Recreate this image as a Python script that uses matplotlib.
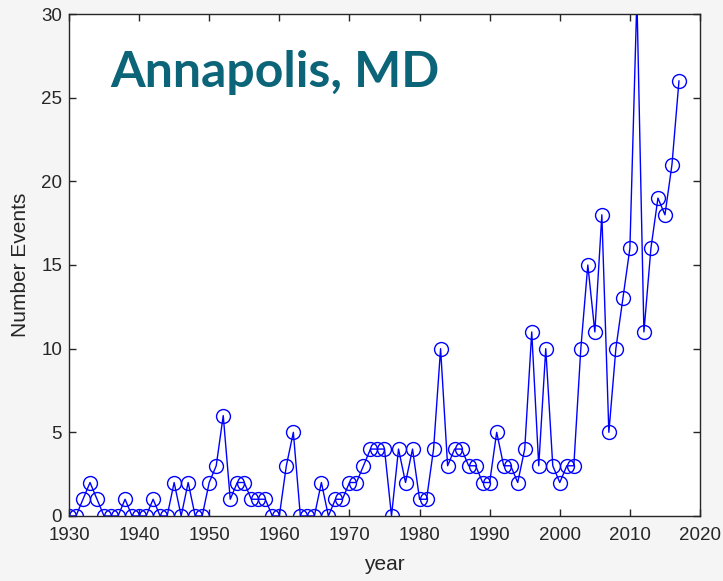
import matplotlib
matplotlib.use('Agg')
import matplotlib.pyplot as plt

# Yearly event counts
years = list(range(1930, 2018))
events = [0, 0, 1, 2, 1, 0, 0, 0, 1, 0,
          0, 0, 1, 0, 0, 2, 0, 2, 0, 0,
          2, 3, 6, 1, 2, 2, 1, 1, 1, 0,
          0, 3, 5, 0, 0, 0, 2, 0, 1, 1,
          2, 2, 3, 4, 4, 4, 0, 4, 2, 4,
          1, 1, 4, 10, 3, 4, 4, 3, 3, 2,
          2, 5, 3, 3, 2, 4, 11, 3, 10, 3,
          2, 3, 3, 10, 15, 11, 18, 5, 10, 13,
          16, 31, 11, 16, 19, 18, 21, 26]

x_ticks = [1930, 1940, 1950, 1960, 1970, 1980, 1990, 2000, 2010, 2020]
y_ticks = [0, 5, 10, 15, 20, 25, 30]

plt.rcParams['font.family'] = ['Liberation Sans', 'DejaVu Sans']
dark = '#262626'

fig = plt.figure(figsize=(7.23, 5.81), dpi=100, facecolor='#f5f5f5')
ax = fig.add_axes([0.0954, 0.1119, 0.8728, 0.864])
ax.set_facecolor('white')

ax.plot(years, events, color='blue', linewidth=1, marker='o', markersize=10,
        markerfacecolor='none', markeredgecolor='blue', markeredgewidth=1)

ax.set_xlim(1930, 2020)
ax.set_ylim(0, 30)
ax.set_xticks(x_ticks)
ax.set_yticks(y_ticks)
ax.tick_params(direction='in', top=True, right=True, length=5, width=1,
               colors=dark, labelsize=13.5)
ax.tick_params(axis='x', pad=8)
ax.tick_params(axis='y', pad=5)
for s in ax.spines.values():
    s.set_color(dark)
    s.set_linewidth(1)

ax.set_xlabel('year', fontsize=15, color=dark, labelpad=8)
ax.set_ylabel('Number Events', fontsize=15, color=dark, labelpad=8)

ax.text(0.065, 0.884, 'Annapolis, MD', transform=ax.transAxes,
        fontsize=36, fontweight='bold', color='#0b6478',
        family=['Lato', 'DejaVu Sans'], va='center', ha='left')

fig.savefig('out.png', dpi=100, facecolor=fig.get_facecolor())
